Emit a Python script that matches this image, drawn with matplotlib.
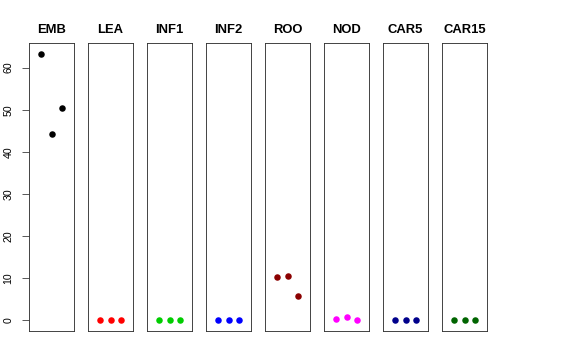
import matplotlib
matplotlib.use("Agg")
import matplotlib.pyplot as plt
import numpy as np

plt.rcParams['font.family'] = ['Liberation Sans', 'DejaVu Sans']

# tissue groups and their three replicate values
groups = ["EMB", "LEA", "INF1", "INF2", "ROO", "NOD", "CAR5", "CAR15"]
emb = [63.3, 44.3, 50.3]
lea = [0.0, 0.1, 0.0]
inf1 = [0.0, 0.0, 0.0]
inf2 = [0.0, 0.0, 0.0]
roo = [10.3, 10.5, 5.8]
nod = [0.2, 0.7, 0.1]
car5 = [0.0, 0.0, 0.0]
car15 = [0.0, 0.0, 0.0]
values = [emb, lea, inf1, inf2, roo, nod, car5, car15]
colours = ["black", "red", "#00CD00", "blue", "#8B0000", "magenta", "#00008B", "#006400"]
yticks = [0, 10, 20, 30, 40, 50, 60]

W, H = 576, 360
fig = plt.figure(figsize=(W / 72, H / 72), dpi=72)

lefts = [29, 88, 147, 206, 265, 324, 383, 442]
pw = 45
top, bottom = 43, 331

ymax = max(max(v) for v in values)
ylo, yhi = 0 - 0.04 * ymax, ymax + 0.04 * ymax

for i, (g, v, c) in enumerate(zip(groups, values, colours)):
    ax = fig.add_axes([lefts[i] / W, 1 - bottom / H, pw / W, (bottom - top) / H])
    x = np.arange(1, len(v) + 1)
    ax.plot(x, v, 'o', color=c, markersize=6.5, markeredgewidth=0)
    ax.set_xlim(-0.16, 4.16)
    ax.set_ylim(ylo, yhi)
    ax.set_xticks([])
    for s in ax.spines.values():
        s.set_linewidth(0.9)
        s.set_color("#333333")
    ax.set_title(g, fontsize=13, fontweight='bold', pad=9.5)
    if i == 0:
        ax.set_yticks(yticks)
        ax.tick_params(axis='y', length=7.5, width=0.8, labelsize=10.5, pad=8, color="#333333")
        for lab in ax.get_yticklabels():
            lab.set_rotation(90)
            lab.set_va('center')
    else:
        ax.set_yticks([])

fig.savefig("out.png", dpi=72)
